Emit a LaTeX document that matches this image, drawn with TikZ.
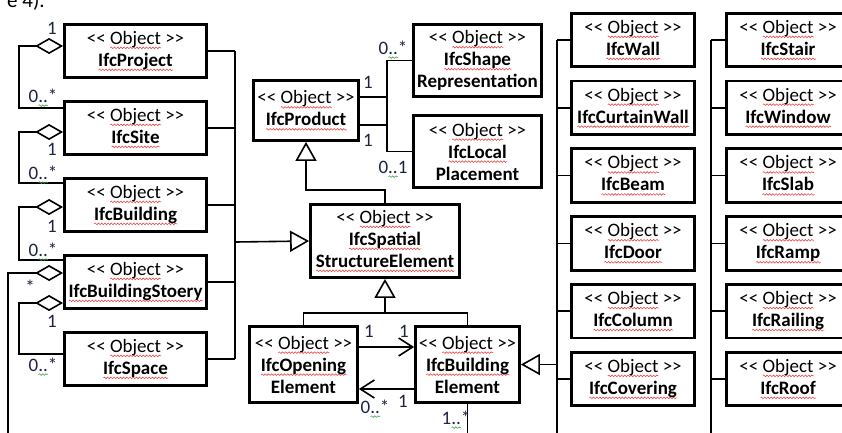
\documentclass[tikz,border=0pt]{standalone}
\usepackage{fontspec}
\setmainfont{Carlito}[Ligatures=TeXOff]
\usetikzlibrary{arrows.meta,decorations.pathmorphing}

\definecolor{multcol}{RGB}{28,36,64}
\definecolor{spellred}{RGB}{235,70,70}
\definecolor{spellgreen}{RGB}{60,165,70}

% spell-checker style wavy underlines
\newsavebox\wavebox
\newlength\wavelen
\newcommand\wavy[2]{\sbox\wavebox{#2}\setlength\wavelen{\wd\wavebox}%
  \rlap{\tikz[baseline=0pt]\draw[#1, line width=0.6pt, decorate,
    decoration={snake, amplitude=0.8pt, segment length=3.2pt}] (0pt,-3.6pt) -- (\wavelen,-3.6pt);}%
  \usebox\wavebox}
\newcommand\redwave[1]{\wavy{spellred}{#1}}
\newcommand\greenwave[1]{\wavy{spellgreen}{#1}}

\newcommand\boxfont{\fontsize{19}{22}\selectfont}
\newcommand\stereo{<< \redwave{Object} >>}

\begin{document}
\begin{tikzpicture}[x=1pt, y=-1pt,
    obj/.style={draw, line width=2.8pt, align=center, inner sep=0pt, font=\boxfont},
    link/.style={line width=1.6pt},
    aggr/.style={link, {Diamond[open, length=28pt, width=16pt]}-},
    gen/.style={link, -{Triangle[open, length=19pt, width=21pt]}},
    nav/.style={link, -{Straight Barb[length=14pt, width=18pt]}},
    mult/.style={anchor=base, inner sep=0pt, text=multcol, font=\boxfont}]
    \useasboundingbox (0,0) rectangle (842,432);

    \node[anchor=base west, inner sep=0pt, font=\fontsize{21}{24}\selectfont] (cap) at (7,7.5) {e 4).};

    % product and its relations
    \node[obj, minimum width=105, minimum height=60] (product) at (306,110.5) {\stereo\\\textbf{\redwave{IfcProduct}}};
    \node[obj, minimum width=128, minimum height=72] (shape) at (477.5,60.5) {\stereo\\\textbf{\redwave{IfcShape}}\\\textbf{Representation}};
    \node[obj, minimum width=128, minimum height=72] (placement) at (477.5,151.5) {\stereo\\\textbf{\redwave{IfcLocal}}\\\textbf{Placement}};
    \node[obj, minimum width=149, minimum height=73] (spatial) at (385,241) {\stereo\\\textbf{\redwave{IfcSpatial}}\\\textbf{\redwave{StructureElement}}};

    \draw[link] ([yshift=-14.5pt]product.east) -- ++(27,0) |- (shape.west);
    \draw[link] ([yshift=13.5pt]product.east) -- ++(27,0) |- (placement.west);
    \draw[gen] (spatial.north) -- ++(0,-13) -| (product.south);

    \node[mult] (pr1) at (368,88) {1};
    \node[mult] (sh0) at (393,54) {0\greenwave{..}*};
    \node[mult] (pr2) at (368,146) {1};
    \node[mult] (pl0) at (393,173) {0\greenwave{..}1};

    % spatial hierarchy on the left
    \coordinate (hbus) at (235,242);
    \foreach \name/\txt [count=\i from 0] in {project/IfcProject, site/IfcSite, building/IfcBuilding, storey/IfcBuildingStoery, space/IfcSpace} {
      \node[obj, minimum width=142, minimum height=53.5] (\name) at (135.5,{51+77*\i}) {\stereo\\\textbf{\redwave{\txt}}};
      \draw[link] (\name.east) -- (\name.east -| hbus);
    }
    \draw[link] (project.east -| hbus) -- (space.east -| hbus);
    \draw[gen] (hbus) -- (spatial.west);

    \draw[aggr] ([yshift=5pt]project.west) -- ++(-44,0) |- ([yshift=20pt]site.west);
    \draw[aggr] ([yshift=-4pt]site.west) -- ++(-44,0) |- ([yshift=22pt]building.west);
    \draw[aggr] ([yshift=-2pt]building.west) -- ++(-44,0) |- ([yshift=22pt]storey.west);
    \draw[aggr] ([yshift=-21pt]storey.west) -- ++(-44,0) |- ([yshift=5pt]space.west);
    \coordinate (storeyend) at (8,440);
    \draw[aggr] ([yshift=9pt]storey.west) -| (storeyend);

    \node[mult] (pj1) at (52,34.5) {1};
    \node[mult] (st0) at (43,102) {0\greenwave{..}*};
    \node[mult] (st1) at (52,155) {1};
    \node[mult] (bd0) at (43,179) {0\greenwave{..}*};
    \node[mult] (bd1) at (52,232) {1};
    \node[mult] (so0) at (43,256) {0\greenwave{..}*};
    \node[mult] (sos) at (30,293) {*};
    \node[mult] (so1) at (52,327) {1};
    \node[mult] (sp0) at (43,371) {0\greenwave{..}*};

    % opening and building element
    \node[obj, minimum width=108, minimum height=76] (opening) at (303.5,364.5) {\stereo\\\textbf{\redwave{IfcOpening}}\\\textbf{Element}};
    \node[obj, minimum width=104, minimum height=76] (element) at (467.5,364.5) {\stereo\\\textbf{\redwave{IfcBuilding}}\\\textbf{Element}};

    \coordinate (genjoin) at (385,313);
    \draw[link] (opening.north) |- (genjoin) -| (element.north);
    \draw[gen] (genjoin) -- (spatial.south);
    \draw[nav] ([yshift=17.5pt]opening.east) -- ([yshift=17.5pt]element.west);
    \draw[nav] ([yshift=-24.5pt]element.west) -- ([yshift=-24.5pt]opening.east);
    \coordinate (elementend) at (467.5,440);
    \draw[link] (element.south) -- (elementend);

    \node[mult] (op1) at (369,337) {1};
    \node[mult] (el1) at (404,337) {1};
    \node[mult] (op0) at (375,413) {0\greenwave{..}*};
    \node[mult] (el2) at (403,407) {1};
    \node[mult] (el0) at (456,424) {1\greenwave{..}*};

    % building element subtypes, two columns
    \coordinate (colA) at (557,40);
    \coordinate (colB) at (711,40);
    \coordinate (colAend) at (557,440);
    \coordinate (colBend) at (711,440);
    \draw[link] (colA) -- (colAend);
    \draw[link] (colB) -- (colBend);
    \draw[gen] (element.east -| colA) -- (element.east);
    \foreach \name/\txt [count=\i from 0] in {wall/IfcWall, curtainwall/IfcCurtainWall, beam/IfcBeam, door/IfcDoor, column/IfcColumn, covering/IfcCovering} {
      \node[obj, minimum width=123, minimum height=53.5] (\name) at (633,{40+67.8*\i}) {\stereo\\\textbf{\redwave{\txt}}};
      \draw[link] (\name.west) -- (\name.west -| colA);
    }
    \foreach \name/\txt [count=\i from 0] in {stair/IfcStair, window/IfcWindow, slab/IfcSlab, ramp/IfcRamp, railing/IfcRailing, roof/IfcRoof} {
      \node[obj, minimum width=123, minimum height=53.5] (\name) at (788,{40+67.8*\i}) {\stereo\\\textbf{\redwave{\txt}}};
      \draw[link] (\name.west) -- (\name.west -| colB);
    }
\end{tikzpicture}
\end{document}
